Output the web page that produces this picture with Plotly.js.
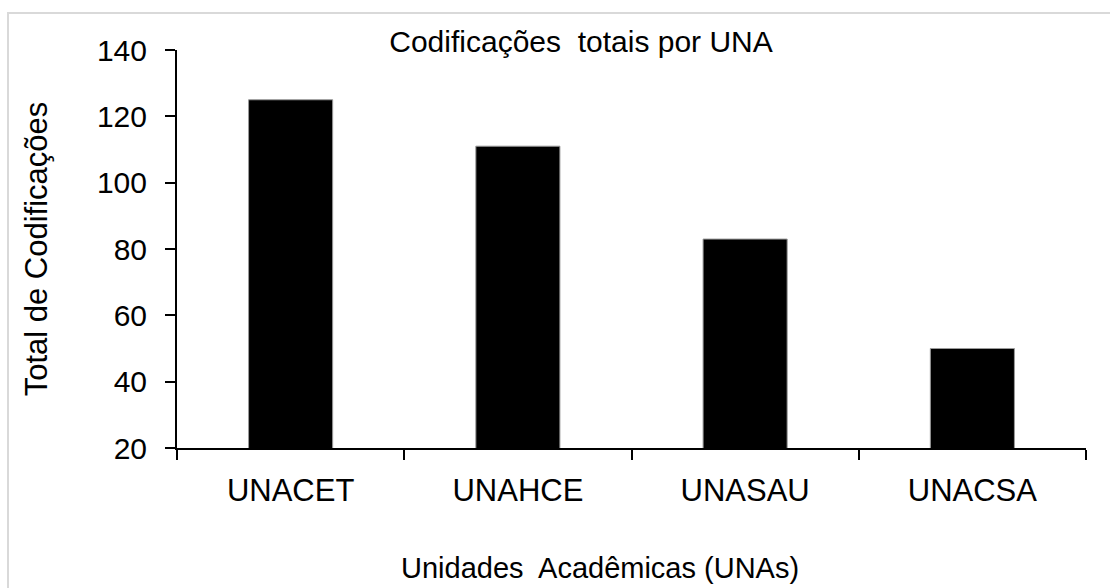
<!DOCTYPE html>
<html>
<head>
<meta charset="utf-8">
<script src="https://cdn.plot.ly/plotly-3.0.1.min.js"></script>
<style>
  html, body { margin: 0; padding: 0; background: #fff; }
  #wrap { position: relative; width: 1110px; height: 588px; overflow: hidden; }
  #chart { position: absolute; left: 0; top: 0; width: 1110px; height: 588px; }
  #frame { position: absolute; left: 7px; top: 12px; width: 1200px; height: 700px;
           border-left: 2px solid #d9d9d9; border-top: 2px solid #d9d9d9; pointer-events: none; }
</style>
</head>
<body>
<div id="wrap">
  <div id="chart"></div>
  <div id="frame"></div>
</div>
<script>
const categories = ["UNACET", "UNAHCE", "UNASAU", "UNACSA"];
const totals = [125, 111, 83, 50];
const yTicks = [20, 40, 60, 80, 100, 120, 140];

const FONT = "Liberation Sans, Arial, sans-serif";

const trace = {
  type: "bar",
  x: categories,
  y: totals,
  marker: { color: "#000000", line: { color: "#9a9a9a", width: 1 } },
  hoverinfo: "x+y"
};

const layout = {
  width: 1110,
  height: 588,
  margin: { l: 177, r: 24, t: 50, b: 140 },
  paper_bgcolor: "rgba(0,0,0,0)",
  plot_bgcolor: "rgba(0,0,0,0)",
  bargap: 0.63,
  showlegend: false,
  title: {
    text: "Codificações  totais por UNA",
    font: { family: FONT, size: 30, color: "#000" },
    xref: "paper", x: (581 - 177) / (1086 - 177), xanchor: "center",
    yref: "container", y: 1 - 41 / 588, yanchor: "middle"
  },
  xaxis: {
    type: "category",
    range: [-0.5, 3.5],
    showline: true, linecolor: "#000", linewidth: 2,
    ticks: "outside", ticklen: 10, tickwidth: 2, tickcolor: "#000",
    tickson: "boundaries",
    showgrid: false, zeroline: false,
    tickfont: { family: FONT, size: 31, color: "#000" },
    ticklabelstandoff: 14
  },
  yaxis: {
    range: [20, 140],
    tickvals: yTicks,
    ticktext: yTicks.map(String),
    showline: true, linecolor: "#000", linewidth: 2,
    ticks: "outside", ticklen: 10, tickwidth: 2, tickcolor: "#000",
    showgrid: false, zeroline: false,
    tickfont: { family: FONT, size: 30, color: "#000" },
    ticklabelstandoff: 12,
    title: {
      text: "Total de Codificações",
      font: { family: FONT, size: 31, color: "#000" },
      standoff: 40
    }
  },
  annotations: [{
    text: "Unidades  Acadêmicas (UNAs)",
    xref: "paper", yref: "paper",
    x: (600 - 177) / (1086 - 177), xanchor: "center",
    y: -(568 - 448) / (448 - 50), yanchor: "middle",
    showarrow: false,
    font: { family: FONT, size: 29, color: "#000" }
  }]
};

Plotly.newPlot("chart", [trace], layout, { displayModeBar: false, staticPlot: true });
</script>
</body>
</html>
